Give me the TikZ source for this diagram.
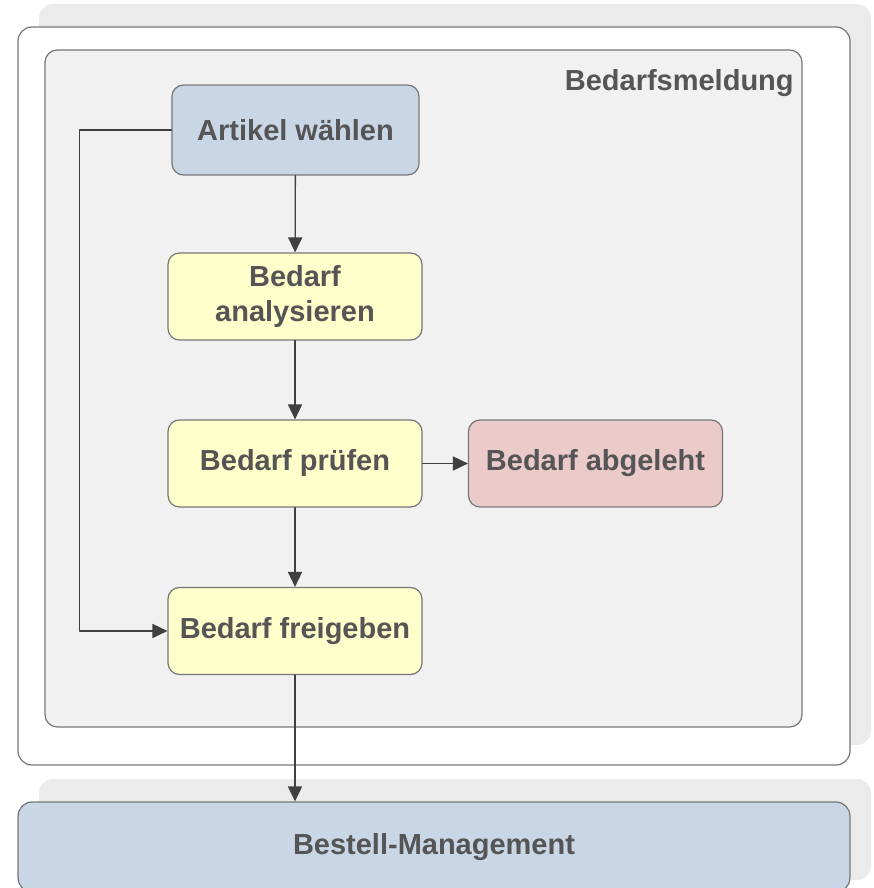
\documentclass[tikz,border=0pt]{standalone}
\usepackage{fontspec}
\setmainfont{Liberation Sans}
\usetikzlibrary{arrows.meta}
\definecolor{schatten}{HTML}{EBEBEB}
\definecolor{panel}{HTML}{F1F1F1}
\definecolor{rand}{HTML}{777777}
\definecolor{schrift}{HTML}{555555}
\definecolor{pfeil}{HTML}{404040}
\definecolor{blau}{HTML}{C9D6E5}
\definecolor{gelb}{HTML}{FFFFCC}
\definecolor{rot}{HTML}{EBCACA}
\begin{document}
\begin{tikzpicture}[line cap=round,line join=round,>={Triangle[length=8.5pt,width=8pt]},x=0.02cm,y=-0.02cm,
	schritt/.style={draw=rand,line width=0.7pt,rounded corners=6.5pt,text=schrift,align=center,
		font=\fontsize{16.5}{19.5}\selectfont\bfseries,minimum width=5.08cm,minimum height=1.74cm},
	fluss/.style={->,draw=pfeil,line width=0.75pt}]
				\clip(0,0) rectangle (873,888);
				% Rahmen
				\fill[schatten,rounded corners=8pt] (39,4) rectangle (871,745);
				\draw[rand,fill=white,line width=0.7pt,rounded corners=8pt] (18,27) rectangle (850,765);
				\draw[rand,fill=panel,line width=0.7pt,rounded corners=7pt] (45,50) rectangle (802,727);
				\node[anchor=east,inner sep=0pt,text=schrift,font=\fontsize{16.5}{19.5}\selectfont\bfseries] (titel) at (794,83) {Bedarfsmeldung};
				\fill[schatten,rounded corners=8pt] (39,779) rectangle (871,880);
				% Schritte
				\node[schritt,fill=blau,minimum width=4.94cm,minimum height=1.8cm] (artikel) at (295.5,130) {Artikel wählen};
				\node[schritt,fill=gelb] (analyse) at (295,296.5) {Bedarf\\analysieren};
				\node[schritt,fill=gelb] (pruefen) at (295,463.5) {Bedarf prüfen};
				\node[schritt,fill=rot] (abgelehnt) at (595.5,463.5) {Bedarf abgeleht};
				\node[schritt,fill=gelb] (freigabe) at (295,631) {Bedarf freigeben};
				\node[schritt,fill=blau,minimum width=16.64cm,minimum height=1.8cm,rounded corners=8pt] (bestell) at (434,847) {Bestell-Management};
				% Pfeile
				\draw[fluss] (artikel) -- (analyse);
				\draw[fluss] (analyse) -- (pruefen);
				\draw[fluss] (pruefen) -- (freigabe);
				\draw[fluss] (pruefen) -- (abgelehnt);
				\draw[fluss] (artikel.west) -- ++(-92,0) |- (freigabe.west);
				\draw[fluss] (freigabe.south) -- (freigabe.south |- bestell.north);
			\end{tikzpicture}
\end{document}
